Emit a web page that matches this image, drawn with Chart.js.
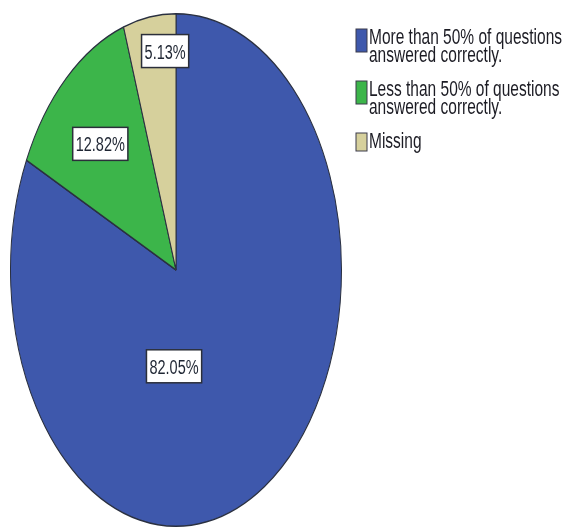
<!DOCTYPE html>
<html>
<head>
<meta charset="utf-8">
<script src="https://cdn.jsdelivr.net/npm/chart.js@4.4.0/dist/chart.umd.min.js"></script>
<style>
  html, body { margin: 0; padding: 0; background: #fff; }
  #pie { display: block; }
</style>
</head>
<body>
<canvas id="pie" width="565" height="529"></canvas>
<script>
// data
const categories = [
    ['More than 50% of questions', 'answered correctly.'],
    ['Less than 50% of questions', 'answered correctly.'],
    ['Missing']
];
const percents = [82.05, 12.82, 5.13];
const sliceColors = ['#3e58ac', '#3cb54a', '#d6d09c'];

// where SPSS put the value boxes: angle clockwise from 12 o'clock, share of the radius
const labelAngles = [181.8, 317.1, 355.6];
const labelRadii = [0.376, 0.672, 0.857];

// the original pie is squashed into an ellipse (taller than wide)
const stretchY = 257 / 166;
const textStretch = 1.4;

function stretchedText(ctx, text, x, y) {
    ctx.save();
    ctx.translate(x, y);
    ctx.scale(1, textStretch);
    ctx.fillText(text, 0, 0);
    ctx.restore();
}

const ellipsePlugin = {
    id: 'ellipse',
    beforeDatasetsDraw(chart) {
        const arc = chart.getDatasetMeta(0).data[0];
        const ctx = chart.ctx;
        ctx.save();
        ctx.translate(arc.x, arc.y);
        ctx.scale(1, stretchY);
        ctx.translate(-arc.x, -arc.y);
    },
    afterDatasetsDraw(chart) {
        chart.ctx.restore();
    }
};

const labelPlugin = {
    id: 'valueBoxes',
    afterDraw(chart) {
        const ctx = chart.ctx;
        const meta = chart.getDatasetMeta(0);
        const cx = meta.data[0].x;
        const cy = meta.data[0].y;
        const r = meta.data[0].outerRadius;

        ctx.save();
        ctx.font = '14.5px "Liberation Sans", Arial, sans-serif';
        ctx.textBaseline = 'alphabetic';
        ctx.textAlign = 'center';
        percents.forEach((p, i) => {
            const a = labelAngles[i] * Math.PI / 180;
            const x = cx + Math.sin(a) * r * labelRadii[i];
            const y = cy - Math.cos(a) * r * labelRadii[i] * stretchY;
            const text = p.toFixed(2) + '%';
            const w = ctx.measureText(text).width + 6;
            const h = 33;
            ctx.fillStyle = '#ffffff';
            ctx.fillRect(x - w / 2, y - h / 2, w, h);
            ctx.strokeStyle = '#2b2f3a';
            ctx.lineWidth = 1.5;
            ctx.strokeRect(x - w / 2, y - h / 2, w, h);
            ctx.fillStyle = '#1f2633';
            stretchedText(ctx, text, x, y + 7.5);
        });

        // legend
        ctx.font = '15.5px "Liberation Sans", Arial, sans-serif';
        ctx.textAlign = 'left';
        let base = 44;
        categories.forEach((lines, i) => {
            const bh = lines.length > 1 ? 23 : 18;
            ctx.fillStyle = sliceColors[i];
            ctx.fillRect(356, base - 15, 11, bh);
            ctx.strokeStyle = '#3a3a4a';
            ctx.lineWidth = 1;
            ctx.strokeRect(356, base - 15, 11, bh);
            ctx.fillStyle = '#1c1c24';
            lines.forEach((line, j) => {
                stretchedText(ctx, line, 369, base + j * 17.5);
            });
            base += lines.length * 17.5 + 17;
        });
        ctx.restore();
    }
};

const ctx = document.getElementById('pie').getContext('2d');
new Chart(ctx, {
    type: 'pie',
    data: {
        labels: categories,
        datasets: [{
            data: percents,
            backgroundColor: sliceColors,
            borderColor: '#2a3040',
            borderWidth: 1
        }]
    },
    options: {
        responsive: false,
        animation: false,
        layout: {
            padding: { left: 10, right: 223, top: 104, bottom: 93 }
        },
        plugins: {
            legend: { display: false },
            tooltip: { enabled: false }
        }
    },
    plugins: [ellipsePlugin, labelPlugin]
});
</script>
</body>
</html>
